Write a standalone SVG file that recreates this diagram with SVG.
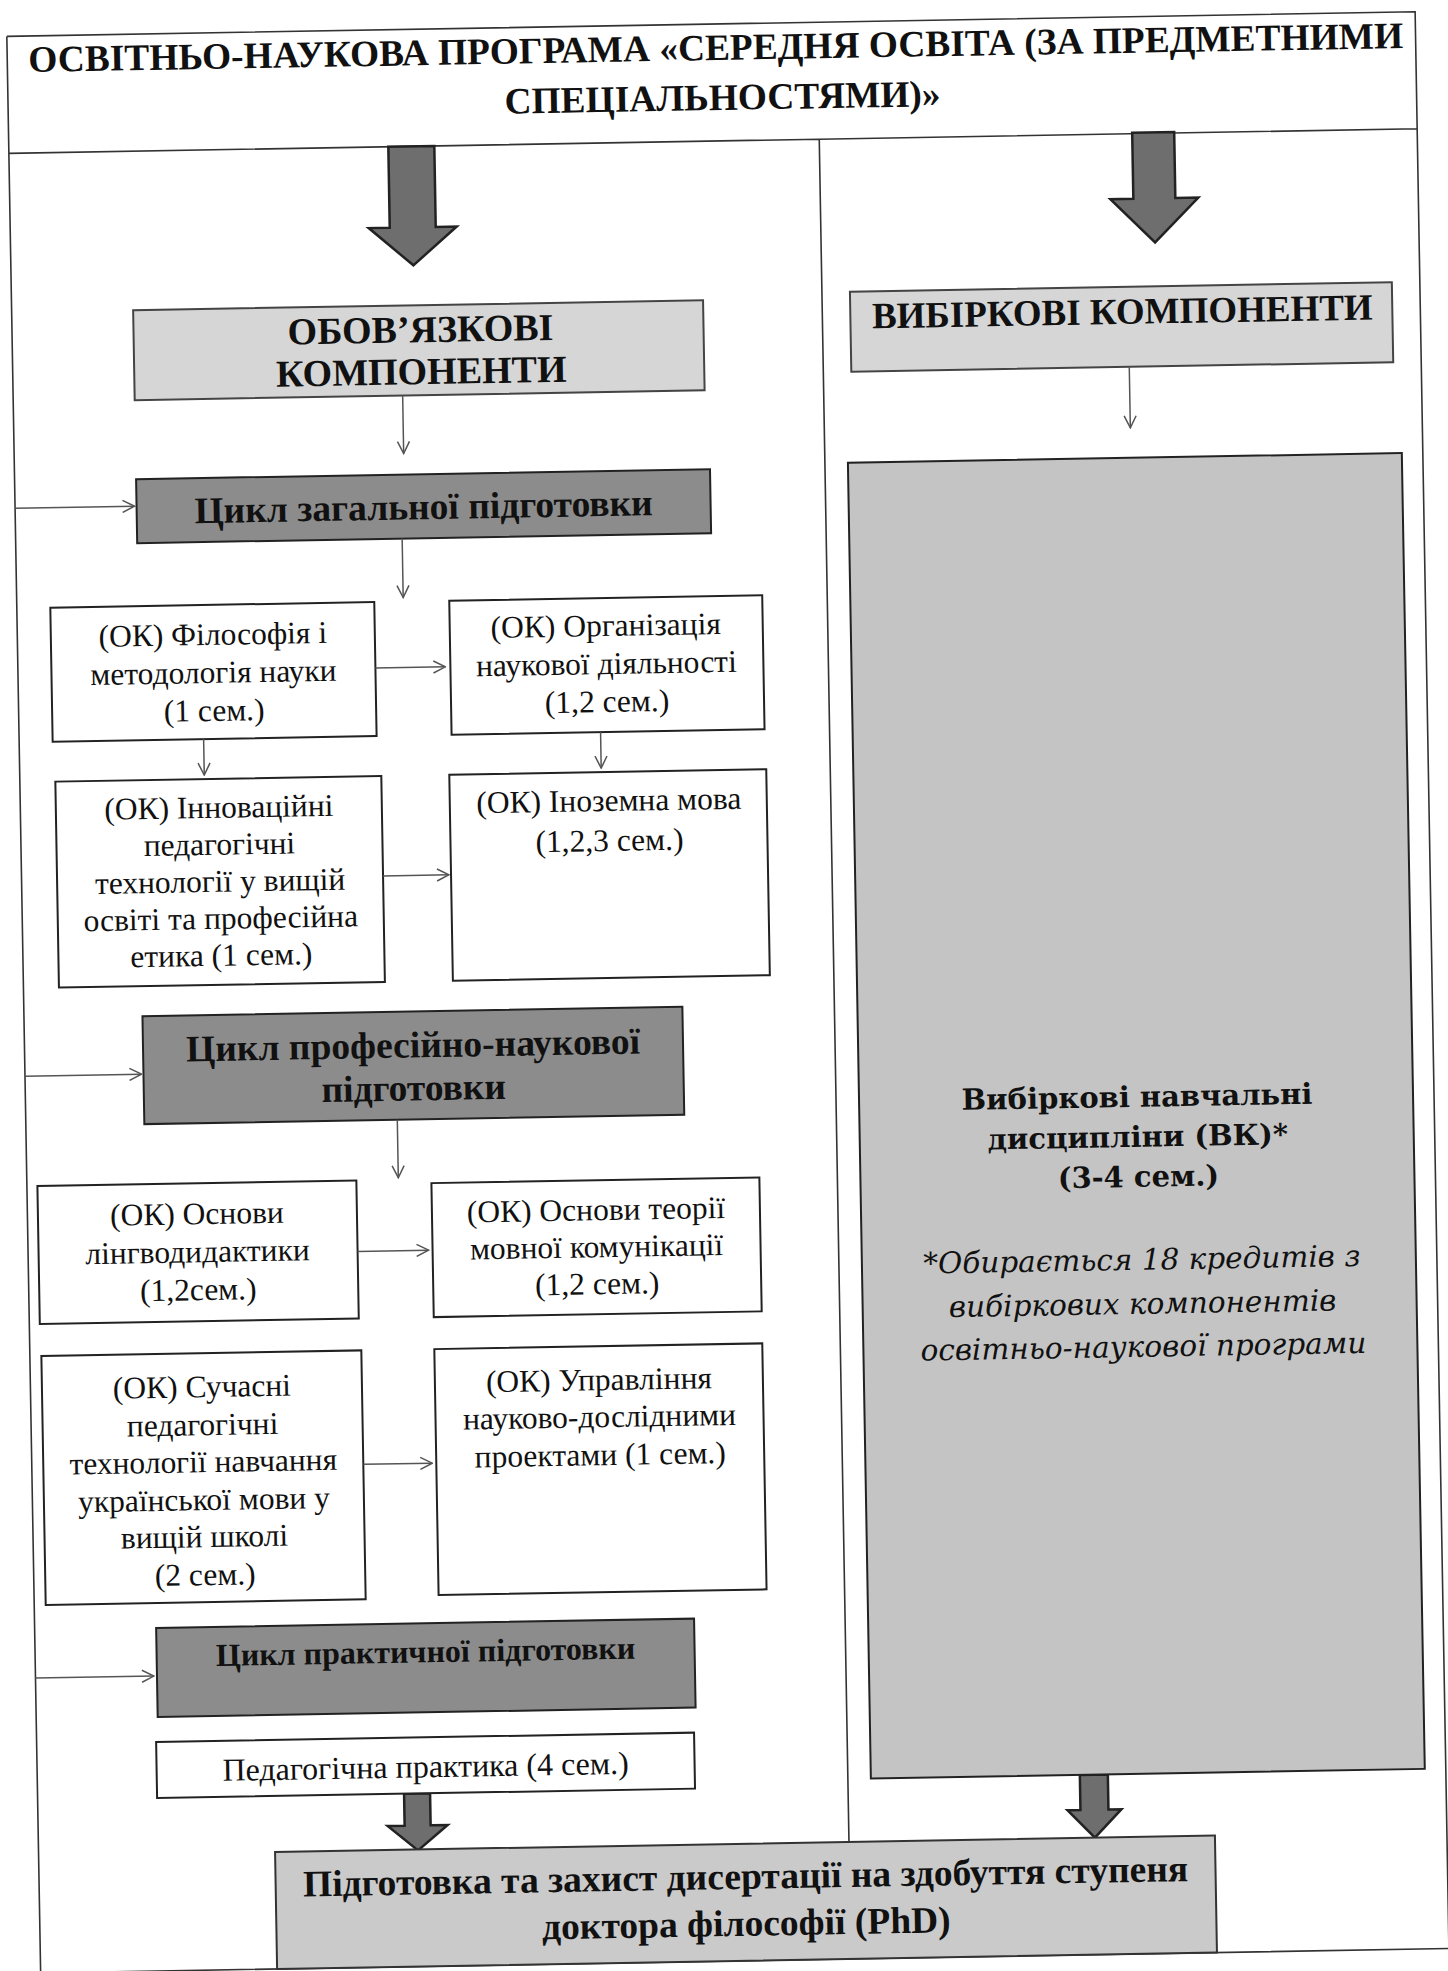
<svg xmlns="http://www.w3.org/2000/svg" width="1448" height="1971" viewBox="0 0 1448 1971">
<style>
.t{font-family:"Liberation Serif","Times New Roman",serif;fill:#111;text-anchor:middle}
.b{font-weight:bold}
.r{font-size:31.5px}
.h38{font-size:38px;font-weight:bold}
.h37{font-size:37.5px;font-weight:bold}
.vk{font-family:"DejaVu Serif",serif;fill:#111;text-anchor:middle}
.box{fill:#fff;stroke:#222;stroke-width:2}
.cyc{fill:#8c8c8c;stroke:#222;stroke-width:2}
.lt{fill:#d6d6d6;stroke:#444;stroke-width:2}
.fin{fill:#cacaca;stroke:#333;stroke-width:2}
.vkb{fill:#c4c4c4;stroke:#222;stroke-width:2}
.conn{stroke:#555;stroke-width:1.5;fill:none;marker-end:url(#ah)}
.frame{stroke:#333;stroke-width:1.6;fill:none}
.big{fill:#6e6e6e;stroke:#222;stroke-width:2.5;stroke-linejoin:miter}
</style>
<defs>
<marker id="ah" viewBox="0 0 14 14" refX="13" refY="7" markerWidth="14" markerHeight="14" markerUnits="userSpaceOnUse" orient="auto">
<path d="M1,1 L13,7 L1,13" fill="none" stroke="#555" stroke-width="1.5"/>
</marker>
</defs>
<rect width="1448" height="1971" fill="#fff"/>
<g transform="rotate(-1 724 985)">
<g id="frame">
<path class="frame" d="M23.5,24 H1432 V1961 M23.5,24 V1990 M23.5,141 H1432 M834,141 V1844 M23.5,1961 H1432"/>
</g>
<g id="title">
<text class="t" style="font-size:37.4px;font-weight:bold" x="732" y="60">ОСВІТНЬО-НАУКОВА ПРОГРАМА «СЕРЕДНЯ ОСВІТА (ЗА ПРЕДМЕТНИМИ</text>
<text class="t" style="font-size:37.4px;font-weight:bold" x="738" y="110">СПЕЦІАЛЬНОСТЯМИ)»</text>
</g>
<g id="bigarrows">
<polygon class="big" points="403,141 449,141 449,222 470,222 426,260 382,222 403,222"/>
<polygon class="big" points="1147,140 1189,140 1189,206 1212,206 1168,250 1124,206 1147,206"/>
<polygon class="big" points="390,1788 416,1788 416,1820 433,1820 403,1845 373,1820 390,1820"/>
<polygon class="big" points="1066,1781 1094,1781 1094,1816 1107,1816 1080,1844 1053,1816 1066,1816"/>
</g>
<g id="n-oblig">
<rect class="lt" x="145" y="300" width="570" height="90"/>
<text class="t h38" x="432" y="337">ОБОВ’ЯЗКОВІ</text>
<text class="t h38" x="432" y="379">КОМПОНЕНТИ</text>
</g>
<g id="n-vybir">
<rect class="lt" x="862" y="294" width="542" height="80"/>
<text class="t" style="font-size:37px;font-weight:bold" x="1134" y="331">ВИБІРКОВІ КОМПОНЕНТИ</text>
</g>
<g id="n-cycle1">
<rect class="cyc" x="145" y="469" width="574" height="64"/>
<text class="t h37" x="432" y="514">Цикл загальної підготовки</text>
</g>
<g id="n-fil">
<rect class="box" x="57" y="596" width="324" height="134"/>
<text class="t r" x="219" y="636">(ОК) Філософія і</text>
<text class="t r" x="219" y="674">методологія науки</text>
<text class="t r" x="219" y="712">(1 сем.)</text>
</g>
<g id="n-org">
<rect class="box" x="456" y="596" width="313" height="134"/>
<text class="t r" x="612" y="634">(ОК) Організація</text>
<text class="t r" x="612" y="672">наукової діяльності</text>
<text class="t r" x="612" y="710">(1,2 сем.)</text>
</g>
<g id="n-inn">
<rect class="box" x="59" y="770" width="326" height="206"/>
<text class="t r" x="222" y="809">(ОК) Інноваційні</text>
<text class="t r" x="222" y="846">педагогічні</text>
<text class="t r" x="222" y="883">технології у вищій</text>
<text class="t r" x="222" y="920">освіті та професійна</text>
<text class="t r" x="222" y="957">етика (1 сем.)</text>
</g>
<g id="n-ino">
<rect class="box" x="453" y="770" width="317" height="206"/>
<text class="t r" x="612" y="809">(ОК) Іноземна мова</text>
<text class="t r" x="612" y="849">(1,2,3 сем.)</text>
</g>
<g id="n-cycle2">
<rect class="cyc" x="142" y="1006" width="540" height="108"/>
<text class="t h37" x="412" y="1052">Цикл професійно-наукової</text>
<text class="t h37" x="412" y="1095">підготовки</text>
</g>
<g id="n-osn">
<rect class="box" x="34" y="1174" width="319" height="138"/>
<text class="t r" x="193" y="1215">(ОК) Основи</text>
<text class="t r" x="193" y="1253">лінгводидактики</text>
<text class="t r" x="193" y="1291">(1,2сем.)</text>
</g>
<g id="n-teor">
<rect class="box" x="428" y="1178" width="328" height="134"/>
<text class="t r" x="592" y="1218">(ОК) Основи теорії</text>
<text class="t r" x="592" y="1255">мовної комунікації</text>
<text class="t r" x="592" y="1292">(1,2 сем.)</text>
</g>
<g id="n-such">
<rect class="box" x="35" y="1344" width="320" height="249"/>
<text class="t r" x="195" y="1388">(ОК) Сучасні</text>
<text class="t r" x="195" y="1426">педагогічні</text>
<text class="t r" x="195" y="1463">технології навчання</text>
<text class="t r" x="195" y="1501">української мови у</text>
<text class="t r" x="195" y="1538">вищій школі</text>
<text class="t r" x="195" y="1576">(2 сем.)</text>
</g>
<g id="n-upr">
<rect class="box" x="428" y="1344" width="328" height="246"/>
<text class="t r" x="592" y="1388">(ОК) Управління</text>
<text class="t r" x="592" y="1425">науково-дослідними</text>
<text class="t r" x="592" y="1463">проектами (1 сем.)</text>
</g>
<g id="n-cycle3">
<rect class="cyc" x="145" y="1618" width="538" height="89"/>
<text class="t b" style="font-size:32px" x="414" y="1657">Цикл практичної підготовки</text>
</g>
<g id="n-ped">
<rect class="box" x="143" y="1732" width="538" height="56"/>
<text class="t" style="font-size:32px" x="412" y="1772">Педагогічна практика (4 сем.)</text>
</g>
<g id="n-vk">
<rect class="vkb" x="857" y="465" width="554" height="1316"/>
<text class="vk b" style="font-size:29px" x="1135" y="1114">Вибіркові навчальні</text>
<text class="vk b" style="font-size:29px" x="1135" y="1154">дисципліни (ВК)*</text>
<text class="vk b" style="font-size:29px" x="1135" y="1194">(3-4 сем.)</text>
<text class="vk" style="font-size:29.5px;font-style:italic" x="1137" y="1277">*Обирається 18 кредитів з</text>
<text class="vk" style="font-size:29.5px;font-style:italic" x="1137" y="1321">вибіркових компонентів</text>
<text class="vk" style="font-size:29.5px;font-style:italic" x="1137" y="1364">освітньо-наукової програми</text>
</g>
<g id="n-final">
<rect class="fin" x="260" y="1844" width="940" height="117"/>
<text class="t h37" x="730" y="1889">Підготовка та захист дисертації на здобуття ступеня</text>
<text class="t h37" x="730" y="1936">доктора філософії (PhD)</text>
</g>
<g id="connectors">
<path class="conn" d="M413,390 V448"/>
<path class="conn" d="M410,533 V592"/>
<path class="conn" d="M23.5,496 H143"/>
<path class="conn" d="M381,662 H451"/>
<path class="conn" d="M208,730 V766"/>
<path class="conn" d="M605,730 V766"/>
<path class="conn" d="M385,870 H451"/>
<path class="conn" d="M23.5,1064 H140"/>
<path class="conn" d="M395,1114 V1172"/>
<path class="conn" d="M353,1245 H424"/>
<path class="conn" d="M355,1458 H424"/>
<path class="conn" d="M23.5,1666 H142"/>
<path class="conn" d="M1140,374 V435"/>
</g>
</g>
</svg>
